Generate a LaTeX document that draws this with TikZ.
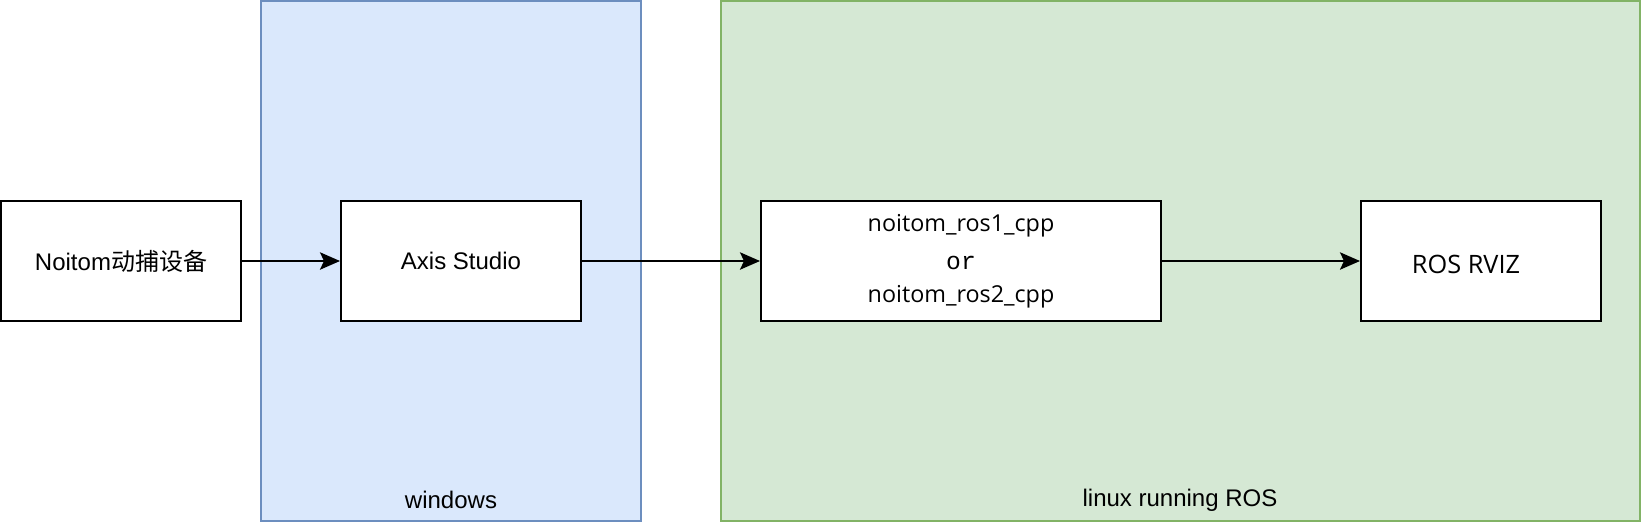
\documentclass[tikz,border=0pt]{standalone}
\usepackage{fontspec}
\setmainfont{Liberation Sans}
\newfontfamily\cjk{Noto Sans CJK SC}
\newfontfamily\opensans{Open Sans}
\newfontfamily\monof{Liberation Mono}
\usetikzlibrary{arrows.meta}
\definecolor{bluefill}{HTML}{DAE8FC}
\definecolor{bluestroke}{HTML}{6C8EBF}
\definecolor{greenfill}{HTML}{D5E8D4}
\definecolor{greenstroke}{HTML}{82B366}
\begin{document}
\begin{tikzpicture}[x=0.75pt,y=-0.75pt,
  box/.style={draw=black,fill=white,line width=1.5pt,minimum width=180pt,minimum height=90pt,inner sep=0pt,font=\fontsize{18}{22}\selectfont},
  grp/.style={line width=1.5pt},
  lbl/.style={font=\fontsize{18}{22}\selectfont,inner sep=0pt},
  conn/.style={line width=1.5pt,-{Stealth[length=15pt,width=13pt,inset=3pt]}}]
\useasboundingbox (0,0) rectangle (1642,522);
\fill[white] (0,0) rectangle (1642,522);
\draw[grp,fill=bluefill,draw=bluestroke] (261,1) rectangle (641,521);
\draw[grp,fill=greenfill,draw=greenstroke] (721,1) rectangle (1640,521);
\node[lbl] (win) at (451,500) {windows};
\node[lbl] (lin) at (1180,500) {linux running ROS};
\node[box] (noitom) at (121,261) {Noitom{\cjk 动捕设备}};
\node[box] (axis) at (461,261) {Axis Studio};
\node[box,minimum width=300pt,align=center,font=\opensans\fontsize{17.5}{24}\selectfont] (ros) at (961,261) {noitom\_ros1\_cpp\\[4.5pt]{\monof\fontsize{18.5}{24}\selectfont or}\\[0.5pt]noitom\_ros2\_cpp};
\node[box] (rviz) at (1481,261) {};
\node[lbl,font=\opensans\fontsize{19}{22}\selectfont] (rviztxt) at (1466,264) {ROS RVIZ};
\draw[conn] (noitom) -- (axis);
\draw[conn] (axis) -- (ros);
\draw[conn] (ros) -- (rviz);
\end{tikzpicture}
\end{document}
